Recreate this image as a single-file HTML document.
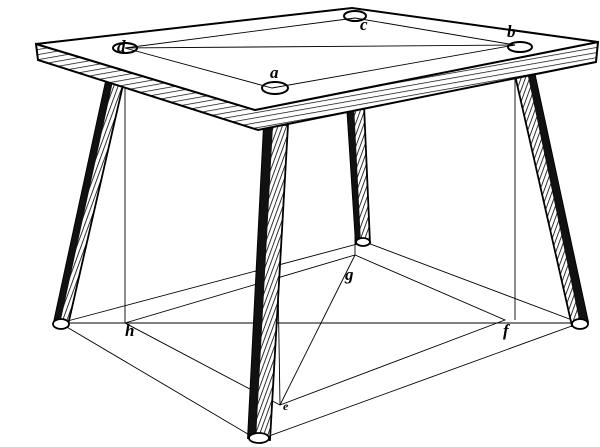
<!DOCTYPE html>
<html><head><meta charset="utf-8"><style>
html,body{margin:0;padding:0;background:#fff;}
svg{display:block;}
text{font-family:"Liberation Serif",serif;font-style:italic;font-weight:bold;font-size:17px;fill:#000;}
</style></head><body>
<svg width="600" height="447" viewBox="0 0 600 447">
<defs>
<pattern id="hatch" width="4" height="4" patternUnits="userSpaceOnUse" patternTransform="rotate(20)">
<rect width="4" height="4" fill="#fff"/>
<line x1="0" y1="0" x2="0" y2="4" stroke="#000" stroke-width="1.6"/>
</pattern>
<pattern id="hatch2" width="5" height="5" patternUnits="userSpaceOnUse" patternTransform="rotate(80)">
<rect width="5" height="5" fill="#fff"/>
<line x1="0" y1="0" x2="0" y2="5" stroke="#000" stroke-width="1.4"/>
</pattern>
</defs>
<g stroke="#000" stroke-width="0.9" fill="none">
<line x1="125" y1="48" x2="125" y2="323"/>
<line x1="515" y1="45" x2="515" y2="320"/>
<line x1="355" y1="18" x2="355" y2="255"/>
<line x1="275" y1="90" x2="280" y2="405"/>
<polyline points="125,323 280,405 505,320 355,255 125,323"/>
<line x1="60" y1="323" x2="580" y2="323"/>
<line x1="355" y1="255" x2="280" y2="405"/>
<polyline points="60,323 258,440 580,323 365,242 60,323"/>
</g>
<g stroke="#000" stroke-width="1.8">
<polygon points="108,72 126,72 68,325 54,322" fill="url(#hatch)"/>
<polygon points="108,72 115,72 60,324 54,322" fill="#111" stroke="none"/>
<polygon points="512,62 532,62 588,322 572,326" fill="url(#hatch)"/>
<polygon points="525,62 532,62 588,322 580,324" fill="#111" stroke="none"/>
<polygon points="347,105 364,105 370,243 356,244" fill="url(#hatch)"/>
<polygon points="347,105 354,105 361,244 356,244" fill="#111" stroke="none"/>
<polygon points="264,125 288,125 270,440 248,438" fill="url(#hatch)"/>
<polygon points="264,125 273,125 256,439 248,438" fill="#111" stroke="none"/>
<ellipse cx="61" cy="324" rx="8" ry="5" fill="#fff"/>
<ellipse cx="580" cy="324" rx="8" ry="5" fill="#fff"/>
<ellipse cx="363" cy="242" rx="7" ry="4" fill="#fff"/>
<ellipse cx="259" cy="438" rx="10" ry="5" fill="#fff"/>
</g>
<g stroke="#000" stroke-width="2">
<polygon points="36,44 255,110 598,42 596,62 258,130 38,60" fill="url(#hatch2)"/>
<polygon points="36,44 352,8 598,42 255,110" fill="#fff"/>
<ellipse cx="125" cy="48" rx="12" ry="5" fill="#fff"/>
<ellipse cx="355" cy="16" rx="11" ry="5" fill="#fff"/>
<ellipse cx="520" cy="47" rx="12" ry="5" fill="#fff"/>
<ellipse cx="275" cy="88" rx="13" ry="6" fill="#fff"/>
</g>
<g stroke="#000" stroke-width="0.9" fill="none">
<polyline points="125,48 272,88 515,45 355,18 125,48"/>
<line x1="125" y1="48" x2="515" y2="45"/>
</g>
<text x="270" y="78">a</text>
<text x="507" y="37">b</text>
<text x="360" y="30">c</text>
<text x="117" y="52">d</text>
<text x="345" y="280">g</text>
<text x="125" y="336">h</text>
<text x="503" y="336">f</text>
<text x="283" y="410" style="font-size:12px">e</text>
</svg>
</body></html>
